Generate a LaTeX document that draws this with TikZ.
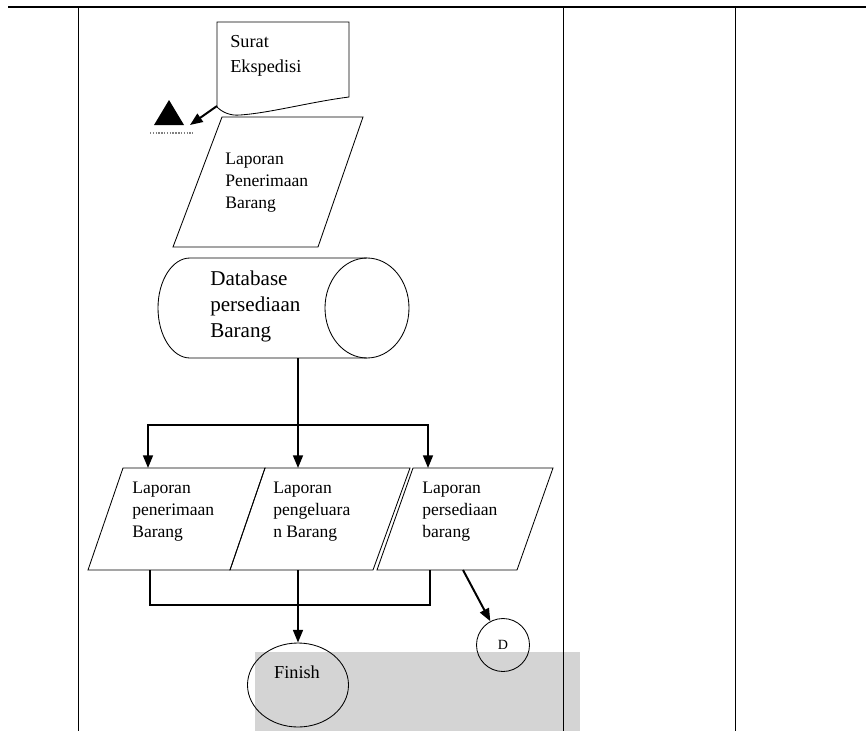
\documentclass[tikz,border=0pt]{standalone}
\usepackage{fontspec}
\setmainfont{Liberation Serif}
\usetikzlibrary{arrows.meta, shapes.geometric, positioning}
\definecolor{abuAbu}{RGB}{212,212,212}

\begin{document}
\begin{tikzpicture}[x=0.25mm, y=-0.25mm,
    garis/.style={line width=0.6pt},
    panah/.style={line width=1.4pt, -{Triangle[length=9pt,width=7pt]}},
    teks/.style={anchor=north west, inner sep=0pt, align=left, font=\fontsize{12.5}{15.6}\selectfont}]
        \useasboundingbox (0,0) rectangle (866,731);

        % Fond gris
        \fill[abuAbu] (255,652) rectangle (580,731);

        % Couloirs
        \draw[line width=1.2pt] (8,7) -- (866,7);
        \foreach \x in {78,563,735}
            \draw[garis] (\x,7) -- (\x,731);

        % Surat Ekspedisi
        \draw[garis, fill=white] (217,107) -- (217,22) -- (349,22) -- (349,97)
            .. controls (310,102) and (270,113) .. (240,115)
            .. controls (230,116) and (222,112) .. (217,107) -- cycle;
        \node[teks, font=\fontsize{13}{17.7}\selectfont] (surat) at (230,35) {Surat\\Ekspedisi};
        \coordinate (sudut) at (217,106);

        % Arsip
        \fill (169,100) -- (184,125) -- (154,125) -- cycle;
        \draw[gray, densely dotted, line width=1pt] (150,133) -- (193,133);
        \coordinate (arsip) at (190,125);
        \draw[panah] (sudut) -- (arsip);

        % Laporan Penerimaan Barang
        \draw[garis] (222,117) -- (363,117) -- (318,247) -- (173,247) -- cycle;
        \node[teks] (lpb) at (225,153) {Laporan\\Penerimaan\\Barang};

        % Database
        \draw[garis] (190,258) -- (367,258) (367,358) -- (190,358)
            arc[start angle=90, end angle=270, x radius=32, y radius=50];
        \draw[garis] (367,308) ellipse [x radius=42, y radius=50];
        \node[teks, font=\fontsize{15}{18.4}\selectfont] (db) at (210,271) {Database\\persediaan\\Barang};
        \coordinate (dbbas) at (298,358);
        \coordinate (cabang) at (298,425);

        % Laporan
        \draw[garis] (123,468) -- (265,468) -- (230,570) -- (88,570) -- cycle;
        \draw[garis] (265,468) -- (410,468) -- (373,570) -- (230,570) -- cycle;
        \draw[garis] (413,468) -- (553,468) -- (517,570) -- (377,570) -- cycle;
        \node[teks] (lp1) at (132,482) {Laporan\\penerimaan\\Barang};
        \node[teks] (lp2) at (273,482) {Laporan\\pengeluara\\n Barang};
        \node[teks] (lp3) at (422,482) {Laporan\\persediaan\\barang};
        \coordinate (p1atas) at (148,468);
        \coordinate (p2atas) at (298,468);
        \coordinate (p3atas) at (428,468);
        \coordinate (p1bawah) at (150,570);
        \coordinate (p2bawah) at (298,570);
        \coordinate (p3bawah) at (430,570);
        \coordinate (p3kanan) at (463,570);
        \coordinate (gabung) at (430,605);

        % Finish et D
        \node[draw, ellipse, garis, minimum width=25.25mm, minimum height=21mm] (finish) at (298,685) {};
        \node[font=\fontsize{13}{15}\selectfont] (tfinish) at (297,672) {Finish};
        \node[draw, circle, garis, minimum size=13.25mm, inner sep=0pt, font=\fontsize{10}{12}\selectfont] (d) at (503,645) {D};

        % Fleches
        \draw[panah] (dbbas) -- (p2atas);
        \draw[panah] (cabang) -| (p1atas);
        \draw[panah] (cabang) -| (p3atas);
        \draw[line width=0.9pt] (p1bawah) |- (gabung) -- (p3bawah);
        \draw[panah] (p2bawah) -- (finish);
        \draw[panah] (p3kanan) -- (d);
    \end{tikzpicture}
\end{document}
